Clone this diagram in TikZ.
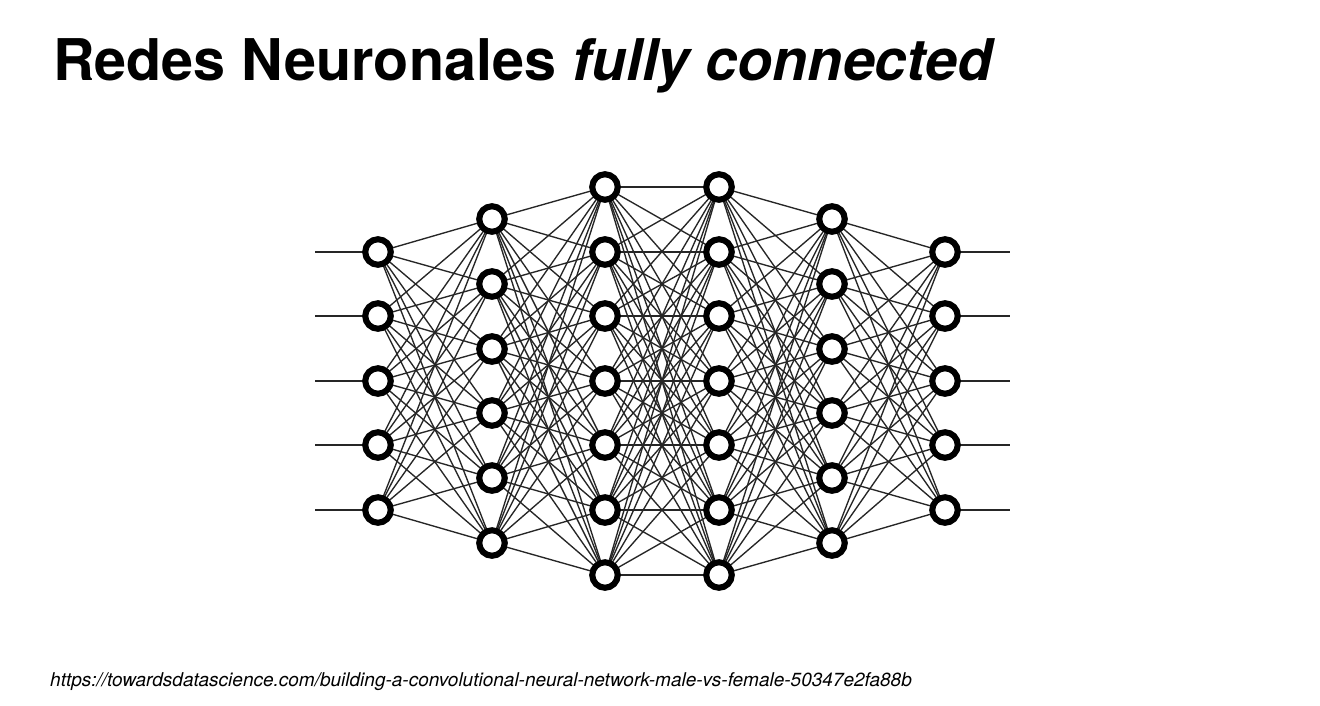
\documentclass[tikz,border=0pt]{standalone}
\usepackage{fontspec}
\setmainfont{TeX Gyre Heros}
\begin{document}
\begin{tikzpicture}[x=1pt,y=-1pt,
  neuron/.style={circle,draw=black,line width=6.1pt,fill=white,minimum size=25.5pt,inner sep=0pt},
  edge/.style={line width=1.35pt,draw=black!85},
  title/.style={anchor=base west,inner sep=0pt,font=\bfseries\fontsize{57.5}{62}\selectfont},
  source/.style={anchor=base west,inner sep=0pt,font=\itshape\fontsize{19}{22}\selectfont}]
\useasboundingbox (0,0) rectangle (1320,705);
\fill[white] (0,0) rectangle (1320,705);

% vertical layouts of the three kinds of layer
\def\ya{252,316,381,445,510}
\def\yb{219,284,349,413,478,543}
\def\yc{187,252,316,381,445,510,575}

% neuron centres
\foreach \y [count=\i] in \ya {\coordinate (n1-\i) at (378,\y); \coordinate (n6-\i) at (945,\y);}
\foreach \y [count=\i] in \yb {\coordinate (n2-\i) at (492,\y); \coordinate (n5-\i) at (832,\y);}
\foreach \y [count=\i] in \yc {\coordinate (n3-\i) at (605,\y); \coordinate (n4-\i) at (719,\y);}

% inputs and outputs
\foreach \y [count=\i] in \ya {
  \coordinate (in-\i) at (315,\y);
  \coordinate (out-\i) at (1010,\y);
  \draw[edge] (in-\i) -- (n1-\i);
  \draw[edge] (n6-\i) -- (out-\i);
}

% full connections between consecutive layers
\foreach \i in {1,...,5} \foreach \j in {1,...,6} {\draw[edge] (n1-\i) -- (n2-\j); \draw[edge] (n5-\j) -- (n6-\i);}
\foreach \i in {1,...,6} \foreach \j in {1,...,7} {\draw[edge] (n2-\i) -- (n3-\j); \draw[edge] (n4-\j) -- (n5-\i);}
\foreach \i in {1,...,7} \foreach \j in {1,...,7} {\draw[edge] (n3-\i) -- (n4-\j);}

% circles on top of the connections
\foreach \l/\k in {1/5,2/6,3/7,4/7,5/6,6/5}
  \foreach \i in {1,...,\k} \node[neuron] (c\l-\i) at (n\l-\i) {};

\node[title] (t) at (53,80) {Redes Neuronales \textit{fully connected}};
\node[source] (s) at (50,686) {https://towardsdatascience.com/building-a-convolutional-neural-network-male-vs-female-50347e2fa88b};
\end{tikzpicture}
\end{document}
